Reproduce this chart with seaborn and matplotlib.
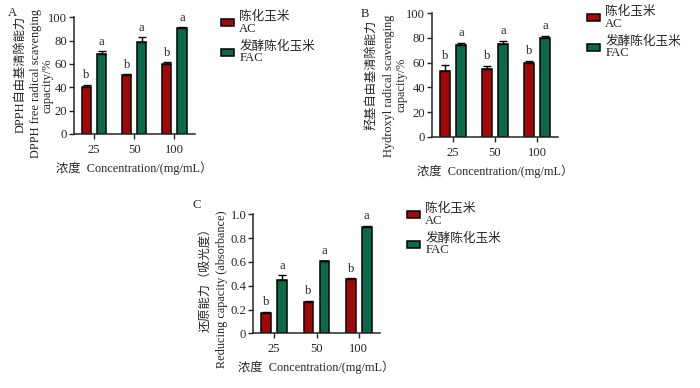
import matplotlib
matplotlib.use("Agg")
import matplotlib.pyplot as plt
import seaborn as sns
import pandas as pd

# ---------------- data ----------------
concentrations = ["25", "50", "100"]
groups = ["陈化玉米\nAC", "发酵陈化玉米\nFAC"]

dpph_ac = [40.6, 50.6, 60.2]
dpph_ac_err = [1.4, 0.6, 1.3]
dpph_fac = [68.9, 79.1, 91.1]
dpph_fac_err = [2.0, 3.6, 0.4]

oh_ac = [53.2, 55.1, 60.0]
oh_ac_err = [4.5, 2.4, 1.4]
oh_fac = [74.6, 75.4, 79.7]
oh_fac_err = [1.6, 2.3, 1.8]

rp_ac = [0.168, 0.263, 0.457]
rp_ac_err = [0.014, 0.011, 0.006]
rp_fac = [0.451, 0.606, 0.891]
rp_fac_err = [0.036, 0.005, 0.014]

sig_ac = ["b", "b", "b"]
sig_fac = ["a", "a", "a"]

pct_ticks = [0, 20, 40, 60, 80, 100]
pct_ticklabels = ["0", "20", "40", "60", "80", "100"]
abs_ticks = [0, 0.2, 0.4, 0.6, 0.8, 1.0]
abs_ticklabels = ["0", "0.2", "0.4", "0.6", "0.8", "1.0"]

xlabel_text = "浓度  Concentration/(mg/mL）"

ylabel_a = ["DPPH自由基清除能力", "DPPH free radical scavenging", "capacity/%"]
ylabel_b = ["羟基自由基清除能力", "Hydroxyl radical scavenging", "capacity/%"]
ylabel_c = ["还原能力（吸光度）", "Reducing capacity (absorbance)"]

# ---------------- style ----------------
sns.set_style("ticks")
plt.rcParams["font.family"] = ["Liberation Serif", "Noto Sans CJK SC"]
plt.rcParams["axes.linewidth"] = 1.1

RED = "#a30707"
GREEN = "#0b6b48"
FS = 8.6

W, H = 700, 388
fig = plt.figure(figsize=(W / 100, H / 100), dpi=100)


def frac_rect(x0, x1, ytop, ybot):
    return [x0 / W, 1 - ybot / H, (x1 - x0) / W, (ybot - ytop) / H]


def panel(rect, ac, ac_err, fac, fac_err, ymax, ticks, ticklabels,
          ylab_lines, ylab_pos, letter, letter_xy, leg_xy, off):
    ax = fig.add_axes(rect)
    df = pd.DataFrame({
        "conc": concentrations * 2,
        "group": [groups[0]] * 3 + [groups[1]] * 3,
        "value": list(ac) + list(fac),
    })
    sns.barplot(data=df, x="conc", y="value", hue="group",
                order=concentrations, hue_order=groups,
                palette=[RED, GREEN], width=0.75, gap=0.39,
                edgecolor="black", linewidth=1.1, errorbar=None, ax=ax,
                saturation=1)
    errs = [ac_err, fac_err]
    sigs = [sig_ac, sig_fac]
    bar_conts = list(ax.containers)[:2]
    for ci, cont in enumerate(bar_conts):
        for bi, bar in enumerate(cont.patches):
            xc = bar.get_x() + bar.get_width() / 2
            h = bar.get_height()
            e = errs[ci][bi]
            ax.errorbar(xc, h, yerr=[[0], [e]], fmt="none", ecolor="black",
                        elinewidth=1.0, capsize=2.6, capthick=1.0, zorder=5)
            ax.text(xc, h + e + off, sigs[ci][bi], ha="center", va="bottom",
                    fontsize=FS + 0.6)
    ax.set_xlim(-0.5, 2.5)
    ax.set_ylim(0, ymax)
    ax.set_yticks(ticks)
    ax.set_yticklabels(ticklabels)
    ax.tick_params(axis="both", direction="out", length=3.6, width=1.0,
                   labelsize=FS + 0.5, pad=1.2)
    ax.tick_params(axis="x", pad=3.5)
    sns.despine(ax=ax)
    ax.set_xlabel(xlabel_text, fontsize=FS + 0.2, labelpad=4)
    ax.set_ylabel("")
    # y-axis title, one rotated line each
    for txt, (px, py) in zip(ylab_lines, ylab_pos):
        fig.text(px / W, 1 - py / H, txt, rotation=90, ha="center",
                 va="center", fontsize=FS + 0.2)
    handles, labels = ax.get_legend_handles_labels()
    if ax.get_legend() is not None:
        ax.get_legend().remove()
    fig.legend(handles, labels, loc="upper left",
               bbox_to_anchor=(leg_xy[0] / W, 1 - leg_xy[1] / H),
               frameon=False, fontsize=FS + 0.5, handlelength=1.0,
               handleheight=0.45, handletextpad=0.45, labelspacing=0.45,
               borderpad=0, borderaxespad=0)
    for t in fig.legends[-1].get_texts():
        t.set_linespacing(0.95)
    fig.text(letter_xy[0] / W, 1 - letter_xy[1] / H, letter,
             fontsize=FS + 0.5, ha="center", va="center")
    return ax


panel(frac_rect(74, 194.5, 17.3, 134), dpph_ac, dpph_ac_err, dpph_fac,
      dpph_fac_err, 100, pct_ticks, pct_ticklabels,
      ylabel_a, [(21, 74), (36, 83), (47, 86)],
      "A", (12, 13), (221, 11), 3.0)

panel(frac_rect(432, 558, 13.3, 136.7), oh_ac, oh_ac_err, oh_fac,
      oh_fac_err, 100, pct_ticks, pct_ticklabels,
      ylabel_b, [(372, 75), (389, 86), (402, 85)],
      "B", (365, 14), (587, 6), 3.0)

panel(frac_rect(253, 380, 214.3, 333.3), rp_ac, rp_ac_err, rp_fac,
      rp_fac_err, 1.0, abs_ticks, abs_ticklabels,
      ylabel_c, [(205, 277), (222, 289)],
      "C", (197, 205), (407, 203), 0.03)

fig.savefig("out.png", dpi=100)
